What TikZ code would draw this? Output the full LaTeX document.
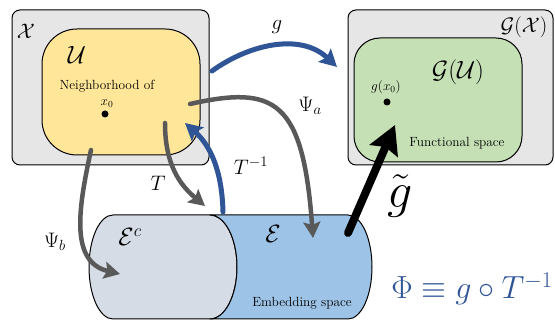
\RequirePackage{fix-cm}
\documentclass[tikz,border=0pt]{standalone}
\usetikzlibrary{arrows.meta}

\definecolor{boxgray}{HTML}{E7E6E6}
\definecolor{uyellow}{HTML}{FFE699}
\definecolor{ggreen}{HTML}{C5E0B4}
\definecolor{cylgray}{HTML}{D6DCE5}
\definecolor{cylblue}{HTML}{9DC3E6}
\definecolor{mapgray}{HTML}{595959}
\definecolor{mapblue}{HTML}{2F5597}

\newcommand{\smalltxt}{\fontsize{13.3}{16}\selectfont}
\newcommand{\labtxt}{\fontsize{21}{25}\selectfont}
\newcommand{\setlab}{\fontsize{25}{30}\selectfont}
\newcommand{\phitxt}{\fontsize{32}{38}\selectfont}
\newcommand{\gtildetxt}{\fontsize{50}{55}\selectfont}

\tikzset{
  outerbox/.style={draw=black, line width=1pt, fill=boxgray, rounded corners=8pt, inner sep=0pt},
  innerbox/.style={draw=black, line width=1pt, inner sep=0pt},
  dot/.style={circle, fill=black, inner sep=0pt, minimum size=7pt},
  grayarrow/.style={draw=mapgray, line width=4.5pt, -{Stealth[length=16pt,width=17pt,inset=3pt]}},
  bluearrow/.style={draw=mapblue, line width=5pt, -{Stealth[length=17pt,width=18pt,inset=3pt]}},
  blackarrow/.style={draw=black, line width=8pt, -{Stealth[length=28pt,width=30pt,inset=4pt]}}
}

\begin{document}
\begin{tikzpicture}[x=1pt,y=-1pt,line cap=round,line join=round]
  \useasboundingbox (0,0) rectangle (555,320);

  % input space and neighborhood
  \node[outerbox, minimum width=197pt, minimum height=155pt] (X) at (110.5,87.5) {};
  \node[innerbox, fill=uyellow, rounded corners=35pt, minimum width=158pt, minimum height=126pt] (U) at (121,92) {};
  \node[font=\labtxt] (Xlab) at (26,31) {$\mathcal{X}$};
  \node[font=\setlab] (Ulab) at (77,55) {$\mathcal{U}$};
  \node[font=\smalltxt] (Utxt) at (107,86) {Neighborhood of};
  \node[font=\smalltxt] (x0lab) at (107,104) {$x_0$};
  \node[dot] (x0) at (105,114) {};

  % functional space
  \node[outerbox, minimum width=205pt, minimum height=155pt] (GX) at (450.5,87.5) {};
  \node[innerbox, fill=ggreen, rounded corners=26pt, minimum width=168pt, minimum height=124pt] (GU) at (438,100) {};
  \node[font=\labtxt] (GXlab) at (524,27) {$\mathcal{G}(\mathcal{X})$};
  \node[font=\setlab] (GUlab) at (458,72) {$\mathcal{G}(\mathcal{U})$};
  \node[font=\smalltxt] (gx0lab) at (386,87) {$g(x_0)$};
  \node[dot] (gx0) at (387,102) {};
  \node[font=\smalltxt] (GUtxt) at (457,143) {Functional space};

  % embedding space
  \draw[fill=cylgray, line width=1pt] (113,215) -- (210,215)
    arc[start angle=-90, end angle=90, x radius=27, y radius=52] -- (113,319)
    arc[start angle=90, end angle=270, x radius=24, y radius=52] -- cycle;
  \draw[fill=cylblue, line width=1pt] (210,215) -- (348,215)
    arc[start angle=-90, end angle=90, x radius=24, y radius=52] -- (210,319)
    arc[start angle=90, end angle=-90, x radius=27, y radius=52] -- cycle;
  \node[font=\setlab] (Eclab) at (130,237) {$\mathcal{E}^c$};
  \node[font=\setlab] (Elab) at (273,234) {$\mathcal{E}$};
  \node[font=\smalltxt] (Etxt) at (302,303) {Embedding space};

  % maps
  \coordinate (gS) at (212,71);
  \coordinate (gE) at (337,67);
  \draw[bluearrow] (gS) .. controls (248,45) and (300,32) .. (gE);
  \node[font=\labtxt] (glab) at (277,27) {$g$};

  \coordinate (PaS) at (190,104);
  \coordinate (PaE) at (313,238);
  \draw[grayarrow] (PaS) .. controls (275,85) and (303,100) .. (PaE);
  \node[font=\labtxt] (Palab) at (310,106) {$\Psi_a$};

  \coordinate (PbS) at (91,150);
  \coordinate (PbE) at (120,274);
  \draw[grayarrow] (PbS) .. controls (78,210) and (70,262) .. (PbE);
  \node[font=\labtxt] (Pblab) at (55,242) {$\Psi_b$};

  \coordinate (TS) at (165,123);
  \coordinate (TE) at (205,206);
  \draw[grayarrow] (TS) .. controls (165,165) and (180,185) .. (TE);
  \node[font=\labtxt] (Tlab) at (158,183) {$T$};

  \coordinate (TiS) at (223,212);
  \coordinate (TiE) at (185,123);
  \draw[bluearrow] (TiS) .. controls (222,170) and (210,145) .. (TiE);
  \node[font=\labtxt] (Tilab) at (251,166) {$T^{-1}$};

  \coordinate (gtS) at (348,233);
  \coordinate (gtE) at (395,125);
  \draw[blackarrow] (gtS) -- (gtE);
  \node[font=\gtildetxt] (gtlab) at (400,196) {$\tilde{g}$};

  \node[font=\phitxt, text=mapblue] (Phi) at (472,289) {$\Phi\equiv g\circ T^{-1}$};
\end{tikzpicture}
\end{document}
